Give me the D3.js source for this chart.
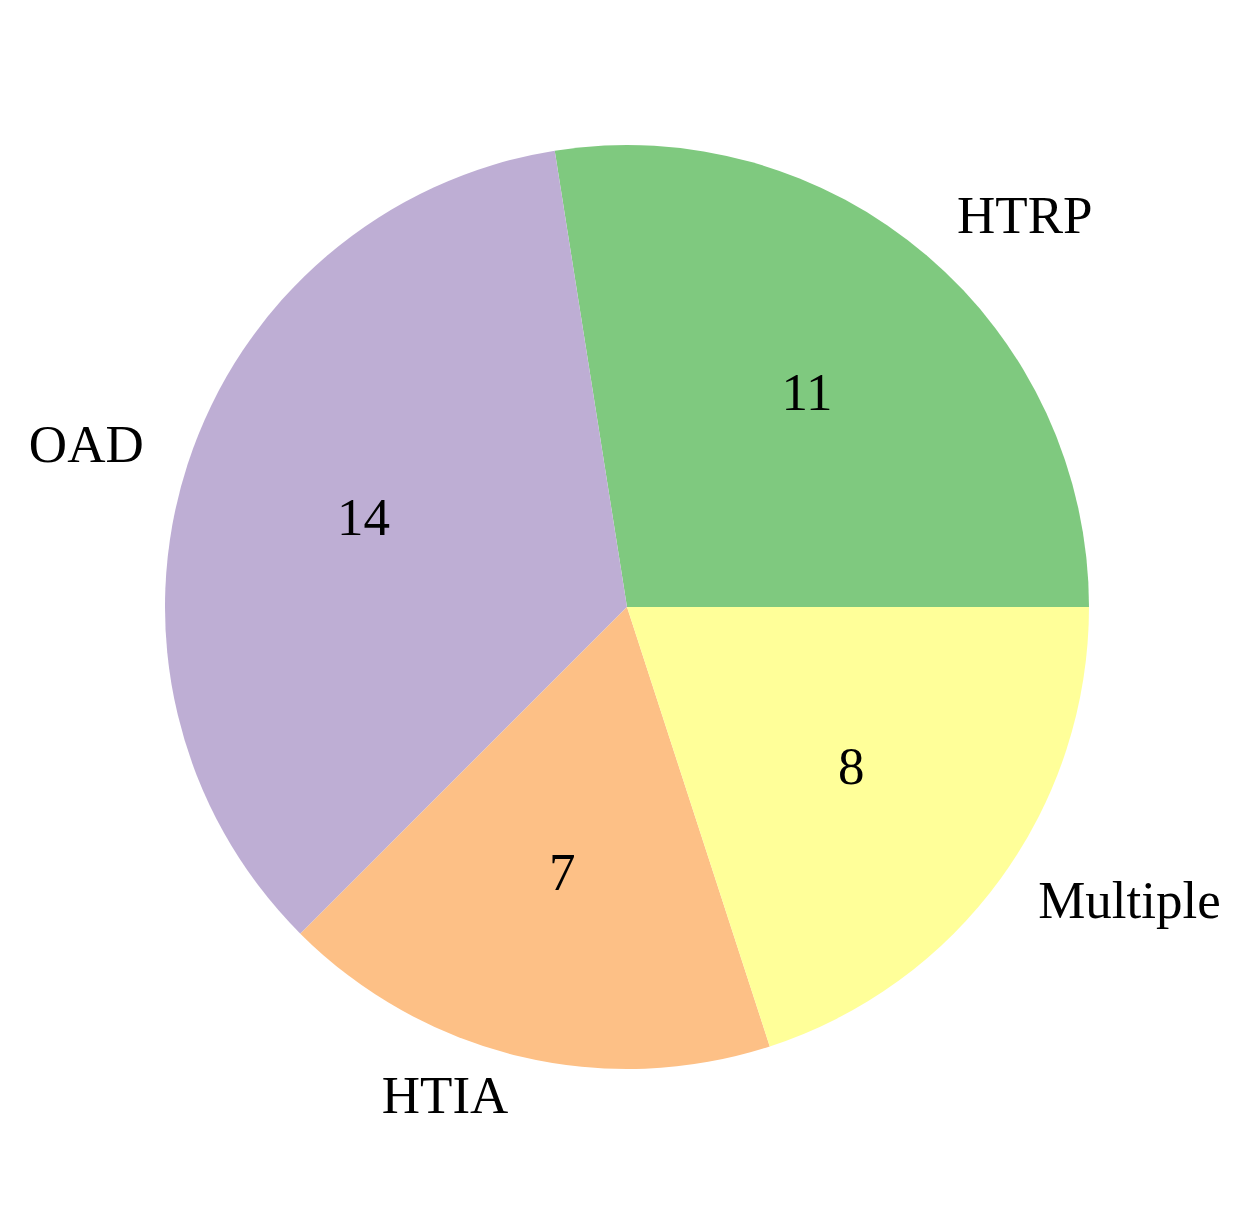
<!DOCTYPE html>
<html><head><meta charset="utf-8">
<script src="https://cdn.jsdelivr.net/npm/d3@7"></script>
<style>body{margin:0;background:#fff}</style>
</head><body>
<svg id="c" width="1253" height="1215"></svg>
<script>
const categories = ["HTRP", "OAD", "HTIA", "Multiple"];
const values = [11, 14, 7, 8];
const colors = ["#7fc97f", "#beaed4", "#fdc086", "#ffff99"];

const W = 1253, H = 1215, cx = 627, cy = 607, R = 462;
const svg = d3.select("#c");
const g = svg.append("g").attr("transform", `translate(${cx},${cy})`);

// matplotlib-style: start at 3 o'clock, counterclockwise
const total = d3.sum(values);
const angle = d3.scaleLinear().domain([0, total]).range([0, 2 * Math.PI]);
let cum = 0;
const slices = values.map((v, i) => {
  const a0 = angle(cum); cum += v; const a1 = angle(cum);
  return {i, v, a0, a1};
});
// convert math angle (ccw from +x) to d3 arc angle (cw from 12 o'clock)
const toD3 = a => Math.PI / 2 - a;
const arc = d3.arc().innerRadius(0).outerRadius(R);

g.selectAll("path").data(slices).join("path")
  .attr("d", d => arc({startAngle: toD3(d.a1), endAngle: toD3(d.a0)}))
  .attr("fill", d => colors[d.i]);

const font = "'Liberation Serif', 'Times New Roman', serif";
slices.forEach(d => {
  const m = (d.a0 + d.a1) / 2;
  const x = Math.cos(m), y = -Math.sin(m);
  g.append("text")
    .attr("x", x * R * 1.1).attr("y", y * R * 1.1)
    .attr("dy", "0.23em")
    .attr("text-anchor", x > 0 ? "start" : "end")
    .attr("font-family", font).attr("font-size", 53)
    .text(categories[d.i]);
  g.append("text")
    .attr("x", x * R * 0.6).attr("y", y * R * 0.6)
    .attr("dy", "0.26em")
    .attr("text-anchor", "middle")
    .attr("font-family", font).attr("font-size", 53)
    .text(d.v);
});
</script>
</body></html>
